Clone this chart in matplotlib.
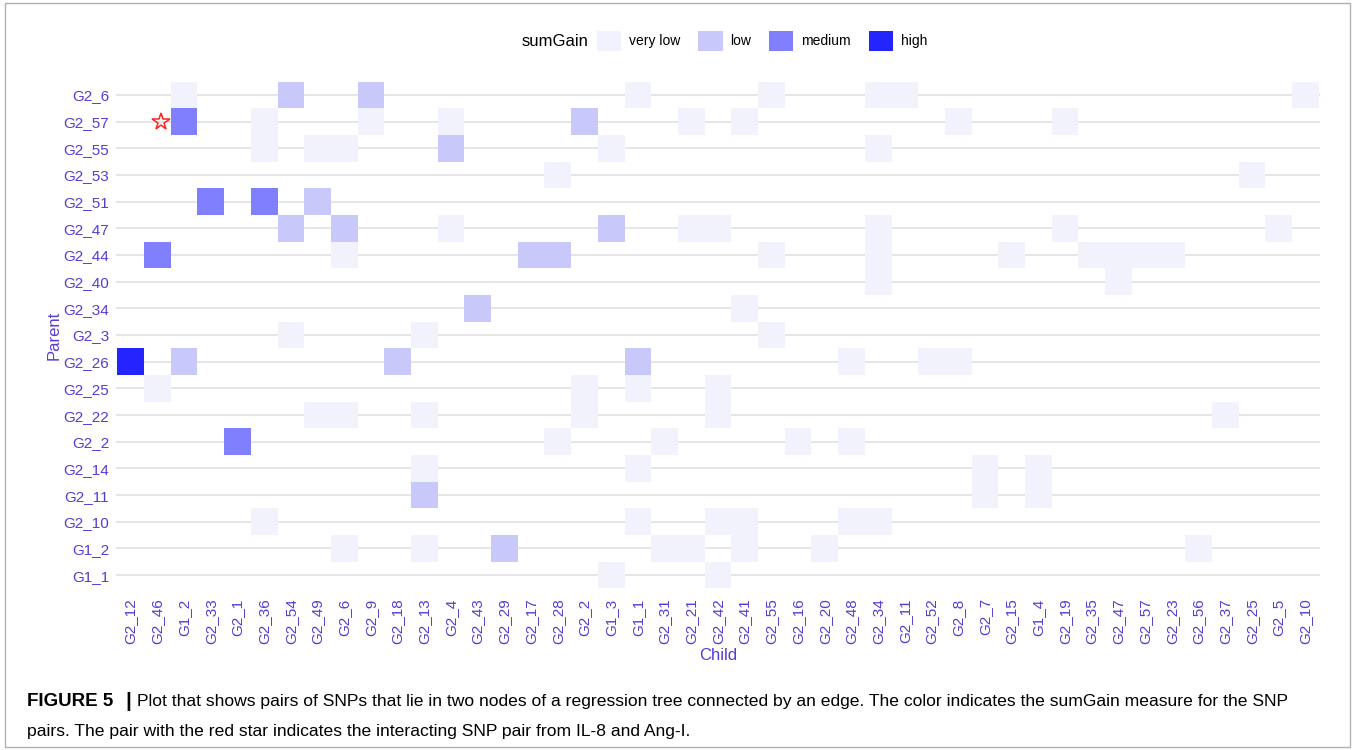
import numpy as np
import matplotlib
matplotlib.use("Agg")
from matplotlib import pyplot as plt
from matplotlib.patches import Patch, Rectangle

plt.rcParams['font.family'] = ['Liberation Sans', 'DejaVu Sans']

parents = ['G2_6', 'G2_57', 'G2_55', 'G2_53', 'G2_51', 'G2_47', 'G2_44', 'G2_40', 'G2_34', 'G2_3',
           'G2_26', 'G2_25', 'G2_22', 'G2_2', 'G2_14', 'G2_11', 'G2_10', 'G1_2', 'G1_1']
children = ['G2_12', 'G2_46', 'G1_2', 'G2_33', 'G2_1', 'G2_36', 'G2_54', 'G2_49', 'G2_6', 'G2_9',
            'G2_18', 'G2_13', 'G2_4', 'G2_43', 'G2_29', 'G2_17', 'G2_28', 'G2_2', 'G1_3', 'G1_1',
            'G2_31', 'G2_21', 'G2_42', 'G2_41', 'G2_55', 'G2_16', 'G2_20', 'G2_48', 'G2_34', 'G2_11',
            'G2_52', 'G2_8', 'G2_7', 'G2_15', 'G1_4', 'G2_19', 'G2_35', 'G2_47', 'G2_57', 'G2_23',
            'G2_56', 'G2_37', 'G2_25', 'G2_5', 'G2_10']
levels = ['very low', 'low', 'medium', 'high']
level_colors = ['#f2f2fd', '#c8c8fa', '#8080ff', '#2424ff']

# pairs: parent, child, sumGain level
pair_parent = ['G2_6'] * 8 + \
    ['G2_57'] * 9 + \
    ['G2_55'] * 6 + \
    ['G2_53'] * 2 + \
    ['G2_51'] * 3 + \
    ['G2_47'] * 9 + \
    ['G2_44'] * 11 + \
    ['G2_40'] * 2 + \
    ['G2_34'] * 2 + \
    ['G2_3'] * 3 + \
    ['G2_26'] * 7 + \
    ['G2_25'] * 4 + \
    ['G2_22'] * 6 + \
    ['G2_2'] * 5 + \
    ['G2_14'] * 4 + \
    ['G2_11'] * 3 + \
    ['G2_10'] * 6 + \
    ['G1_2'] * 8 + \
    ['G1_1'] * 2
pair_child = ['G1_2', 'G2_54', 'G2_9', 'G1_1', 'G2_55', 'G2_34', 'G2_11', 'G2_10',
              'G1_2', 'G2_36', 'G2_9', 'G2_4', 'G2_2', 'G2_21', 'G2_41', 'G2_8', 'G2_19',
              'G2_36', 'G2_49', 'G2_6', 'G2_4', 'G1_3', 'G2_34',
              'G2_28', 'G2_25',
              'G2_33', 'G2_36', 'G2_49',
              'G2_54', 'G2_6', 'G2_4', 'G1_3', 'G2_21', 'G2_42', 'G2_34', 'G2_19', 'G2_5',
              'G2_46', 'G2_6', 'G2_17', 'G2_28', 'G2_55', 'G2_34', 'G2_15', 'G2_35', 'G2_47', 'G2_57', 'G2_23',
              'G2_34', 'G2_47',
              'G2_43', 'G2_41',
              'G2_54', 'G2_13', 'G2_55',
              'G2_12', 'G1_2', 'G2_18', 'G1_1', 'G2_48', 'G2_52', 'G2_8',
              'G2_46', 'G2_2', 'G1_1', 'G2_42',
              'G2_49', 'G2_6', 'G2_13', 'G2_2', 'G2_42', 'G2_37',
              'G2_1', 'G2_28', 'G2_31', 'G2_16', 'G2_48',
              'G2_13', 'G1_1', 'G2_7', 'G1_4',
              'G2_13', 'G2_7', 'G1_4',
              'G2_36', 'G1_1', 'G2_42', 'G2_41', 'G2_48', 'G2_34',
              'G2_6', 'G2_13', 'G2_29', 'G2_31', 'G2_21', 'G2_41', 'G2_20', 'G2_56',
              'G1_3', 'G2_42']
pair_level = [1, 2, 2, 1, 1, 1, 1, 1,
              3, 1, 1, 1, 2, 1, 1, 1, 1,
              1, 1, 1, 2, 1, 1,
              1, 1,
              3, 3, 2,
              2, 2, 1, 2, 1, 1, 1, 1, 1,
              3, 1, 2, 2, 1, 1, 1, 1, 1, 1, 1,
              1, 1,
              2, 1,
              1, 1, 1,
              4, 2, 2, 2, 1, 1, 1,
              1, 1, 1, 1,
              1, 1, 1, 1, 1, 1,
              3, 1, 1, 1, 1,
              1, 1, 1, 1,
              2, 1, 1,
              1, 1, 1, 1, 1, 1,
              1, 1, 2, 1, 1, 1, 1, 1,
              1, 1]

star_parent, star_child = 'G2_57', 'G2_46'

fig = plt.figure(figsize=(13.55, 7.5), dpi=100)
ax = fig.add_axes([116 / 1355, 1 - 590 / 750, (1320 - 116) / 1355, 510 / 750])

xi = [children.index(c) for c in pair_child]
yi = [parents.index(p) for p in pair_parent]
cols = [level_colors[l - 1] for l in pair_level]
ax.bar(xi, 1, bottom=np.array(yi) - 0.5, width=1, color=cols, edgecolor='none', zorder=2)

ax.plot(children.index(star_child) + 0.12, parents.index(star_parent), marker='*',
        markersize=13, markerfacecolor='none', markeredgecolor='#ff2020', markeredgewidth=1.1,
        linestyle='none', zorder=3)

for j in range(len(parents)):
    ax.axhline(j, color='#e6e6e6', lw=1.4, zorder=1)

ax.set_xlim(-0.55, len(children) - 0.45)
ax.set_ylim(len(parents) - 0.44, -0.56)
ax.set_xticks(range(len(children)))
ax.set_xticklabels(children, rotation=90)
ax.set_yticks(range(len(parents)))
ax.set_yticklabels(parents)
lab_col = '#5a3ad6'
ax.tick_params(axis='both', length=0, labelsize=11, labelcolor=lab_col)
ax.tick_params(axis='x', pad=6)
ax.tick_params(axis='y', pad=5)
for s in ax.spines.values():
    s.set_visible(False)
ax.set_xlabel('Child', color=lab_col, fontsize=12, labelpad=3)
ax.set_ylabel('Parent', color=lab_col, fontsize=12, labelpad=1)

fig.text(588 / 1355, 1 - 41 / 750, 'sumGain', fontsize=12, va='center', ha='right')
handles = [Patch(facecolor=c, edgecolor='none') for c in level_colors]
fig.legend(handles, levels, ncol=4, loc='center left', bbox_to_anchor=(590 / 1355, 1 - 41 / 750),
           frameon=False, fontsize=10, handlelength=1.75, handleheight=1.75, handletextpad=0.55,
           columnspacing=1.3, borderpad=0)

fig.text(27 / 1355, 1 - 706 / 750, 'FIGURE 5', fontsize=13.5, fontweight='bold', va='baseline')
fig.text(125 / 1355, 1 - 707 / 750, '|', fontsize=15, fontweight='bold', va='baseline')
fig.text(137 / 1355, 1 - 706 / 750,
         'Plot that shows pairs of SNPs that lie in two nodes of a regression tree connected by an edge. '
         'The color indicates the sumGain measure for the SNP', fontsize=12.6, va='baseline')
fig.text(27 / 1355, 1 - 736 / 750,
         'pairs. The pair with the red star indicates the interacting SNP pair from IL-8 and Ang-I.',
         fontsize=12.6, va='baseline')

fig.patches.append(Rectangle((5 / 1355, 0.004), 1 - 10 / 1355, 0.992, transform=fig.transFigure,
                             fill=False, edgecolor='#b0b0b0', lw=1))

fig.savefig('out.png', dpi=100)
